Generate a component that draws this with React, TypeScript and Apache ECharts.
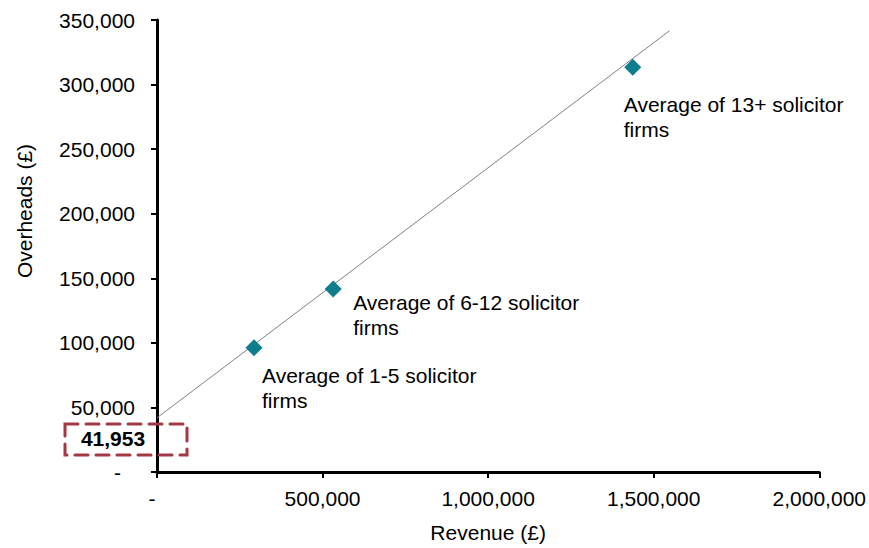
import React, { useEffect, useRef } from "react";
import * as echarts from "echarts";

// Average revenue and overheads per firm size band (£)
const groups = [
  "Average of 1-5 solicitor\nfirms",
  "Average of 6-12 solicitor\nfirms",
  "Average of 13+ solicitor\nfirms",
];
const revenue = [293000, 532000, 1436700];
const overheads = [96300, 141800, 313400];

// Linear trend: intercept at zero revenue and the far end of the line
const trendIntercept = 41953;
const trendEnd = [1547300, 341600];

const xTicks = [0, 500000, 1000000, 1500000, 2000000];
const yTicks = [0, 50000, 100000, 150000, 200000, 250000, 300000, 350000];

// Label anchor offsets (text top-left relative to marker centre)
const labelOffsets = [
  [8, 15],
  [20, 1],
  [-9, 25],
];

const FONT = "Liberation Sans, Arial, Helvetica, sans-serif";
const fmt = (v: number) => v.toLocaleString("en-US");

export default function App() {
  const ref = useRef<HTMLDivElement>(null);

  useEffect(() => {
    if (!ref.current) return;
    const chart = echarts.init(ref.current, undefined, { renderer: "svg" });

    const axisLine = { show: true, lineStyle: { color: "#000", width: 3 } };
    const axisTick = { show: true, length: 6, lineStyle: { color: "#000", width: 2 } };

    chart.setOption({
      animation: false,
      backgroundColor: "#fff",
      grid: { left: 157, right: 48, top: 20, bottom: 69.5, containLabel: false },
      xAxis: {
        type: "value",
        min: xTicks[0],
        max: xTicks[xTicks.length - 1],
        interval: xTicks[1] - xTicks[0],
        name: "Revenue (£)",
        nameLocation: "middle",
        nameGap: 50,
        nameTextStyle: { fontFamily: FONT, fontSize: 21, color: "#000" },
        axisLine,
        axisTick,
        splitLine: { show: false },
        axisLabel: {
          margin: 16,
          fontFamily: FONT,
          fontSize: 21,
          color: "#000",
          formatter: (v: number) => (v === 0 ? "{d|-}" : fmt(v)),
          rich: { d: { fontFamily: FONT, fontSize: 21, color: "#000", padding: [0, 10, 0, 0] } },
        },
      },
      yAxis: {
        type: "value",
        min: yTicks[0],
        max: yTicks[yTicks.length - 1],
        interval: yTicks[1] - yTicks[0],
        axisLine,
        axisTick,
        splitLine: { show: false },
        axisLabel: {
          margin: 22,
          fontFamily: FONT,
          fontSize: 21,
          color: "#000",
          formatter: (v: number) => (v === 0 ? "{d|-}" : fmt(v)),
          rich: { d: { fontFamily: FONT, fontSize: 21, color: "#000", padding: [0, 14, 0, 0] } },
        },
      },
      series: [
        {
          type: "line",
          data: [[0, trendIntercept], trendEnd],
          symbol: "none",
          silent: true,
          z: 1,
          lineStyle: { color: "#808080", width: 1 },
        },
        {
          type: "scatter",
          z: 3,
          symbol: "diamond",
          symbolSize: 17,
          itemStyle: { color: "#0E7D8C", opacity: 1 },
          data: revenue.map((r, i) => ({
            value: [r, overheads[i]],
            label: {
              show: true,
              position: "inside",
              align: "left",
              verticalAlign: "top",
              offset: labelOffsets[i],
              formatter: groups[i],
              fontFamily: FONT,
              fontSize: 21,
              lineHeight: 25,
              color: "#000",
              opacity: 1,
            },
          })),
        },
      ],
      graphic: [
        {
          type: "text",
          x: 24,
          y: 211,
          rotation: Math.PI / 2,
          style: {
            text: "Overheads (£)",
            fontFamily: FONT,
            fontSize: 21,
            fill: "#000",
            align: "center",
            verticalAlign: "middle",
          },
        },
        {
          type: "rect",
          shape: { x: 65, y: 424, width: 122, height: 31 },
          z: 10,
          style: {
            fill: "none",
            stroke: "#A23843",
            lineWidth: 3,
            lineDash: [13, 8],
            lineCap: "round",
          },
        },
        {
          type: "text",
          x: 113,
          y: 438,
          z: 10,
          style: {
            text: fmt(trendIntercept),
            fontFamily: FONT,
            fontSize: 21,
            fontWeight: "bold",
            fill: "#000",
            align: "center",
            verticalAlign: "middle",
          },
        },
      ],
    });

    return () => chart.dispose();
  }, []);

  return (
    <div
      ref={ref}
      style={{ position: "absolute", left: 0, top: 0, width: 869, height: 548 }}
    />
  );
}
